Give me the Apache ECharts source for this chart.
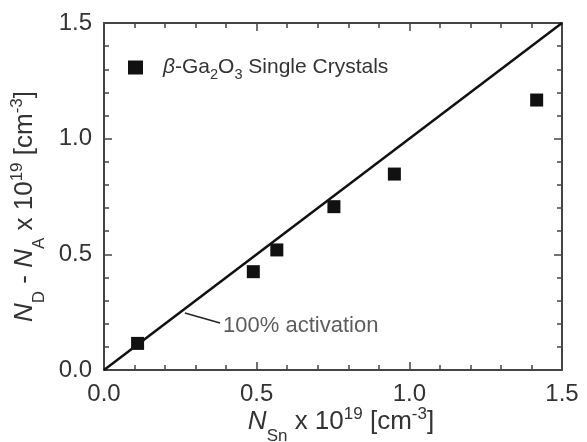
<!DOCTYPE html>
<html><head><meta charset="utf-8">
<script src="https://cdn.jsdelivr.net/npm/echarts@6/dist/echarts.min.js"></script>
<style>html,body{margin:0;padding:0;background:#fff}#c{width:587px;height:442px}</style>
</head><body><div id="c"></div>
<script>
const nSn = [0.11, 0.489, 0.566, 0.753, 0.951, 1.417];
const ndMinusNa = [0.115, 0.425, 0.519, 0.706, 0.847, 1.167];
const idealLine = [[0, 0], [1.5, 1.5]];
const leader = [[0.265, 0.246], [0.38, 0.203]];
const annotationPos = [0.39, 0.19];
const annotationText = '100% activation';
const seriesName = 'β-Ga2O3 Single Crystals';
const axisMin = 0, axisMax = 1.5, axisStep = 0.5;

const FONT = 'Liberation Sans, Arial, sans-serif';
const TXT = '#333';
const rich = {
  m: {fontSize: 26, fontFamily: FONT, color: TXT, lineHeight: 34},
  i: {fontSize: 26, fontFamily: FONT, color: TXT, fontStyle: 'italic', lineHeight: 34},
  sub: {fontSize: 17, fontFamily: FONT, color: TXT, height: 6, lineHeight: 6, verticalAlign: 'bottom'},
  sup: {fontSize: 17, fontFamily: FONT, color: TXT, height: 18, lineHeight: 18, verticalAlign: 'top'}
};
const legRich = {
  m: {fontSize: 21, fontFamily: FONT, color: TXT, lineHeight: 24},
  i: {fontSize: 21, fontFamily: FONT, color: TXT, fontStyle: 'italic', lineHeight: 24},
  sub: {fontSize: 14.5, fontFamily: FONT, color: TXT, height: 10, lineHeight: 10, verticalAlign: 'bottom'}
};

const chart = echarts.init(document.getElementById('c'), null, {renderer: 'canvas'});
const axisCommon = {
  type: 'value', min: axisMin, max: axisMax, interval: axisStep,
  axisLine: {show: true, onZero: false, lineStyle: {color: '#444', width: 2}},
  axisTick: {show: true, inside: true, length: 8, lineStyle: {color: '#444', width: 1.5}},
  minorTick: {show: true, splitNumber: 5, length: 5, lineStyle: {color: '#444', width: 1.5}},
  splitLine: {show: false},
  axisLabel: {fontSize: 24, fontFamily: FONT, color: TXT, formatter: v => v.toFixed(1)}
};
chart.setOption({
  animation: false,
  backgroundColor: '#fff',
  grid: {left: 104, right: 25, top: 23, bottom: 72, containLabel: false, outerBoundsMode: 'none'},
  legend: {
    left: 123, top: 52, itemWidth: 15, itemHeight: 14, itemGap: 10,
    data: [{name: seriesName, icon: 'rect'}],
    formatter: () => '{i|β}{m|-Ga}{sub|2}{m|O}{sub|3}{m| Single Crystals}',
    textStyle: {rich: legRich, padding: [0, 0, 0, 15]}
  },
  xAxis: [
    Object.assign({}, axisCommon, {
      position: 'bottom',
      axisLabel: Object.assign({}, axisCommon.axisLabel, {margin: 12}),
      name: '{i|N}{sub|Sn}{m| x 10}{sup|19}{m| [cm}{sup|-3}{m|]}',
      nameLocation: 'middle', nameGap: 35, nameMoveOverlap: false,
      nameTextStyle: {rich: rich, padding: [0, 0, 0, 16]}
    }),
    Object.assign({}, axisCommon, {position: 'top', axisLabel: {show: false}})
  ],
  yAxis: [
    Object.assign({}, axisCommon, {
      position: 'left',
      axisLabel: Object.assign({}, axisCommon.axisLabel, {margin: 12}),
      name: '{i|N}{sub|D}{m| - }{i|N}{sub|A}{m| x 10}{sup|19}{m| [cm}{sup|-3}{m|]}',
      nameLocation: 'middle', nameGap: 56, nameRotate: 90,
      nameTextStyle: {rich: rich, padding: [0, 20, 0, 0]}
    }),
    Object.assign({}, axisCommon, {position: 'right', axisLabel: {show: false}})
  ],
  series: [
    {
      type: 'line', data: idealLine, symbol: 'none', silent: true,
      lineStyle: {color: '#111', width: 2.5}, z: 2
    },
    {
      type: 'line', data: leader, symbol: 'none', silent: true,
      lineStyle: {color: '#222', width: 1.5}, z: 2
    },
    {
      type: 'scatter', data: [annotationPos], symbolSize: 0, silent: true,
      label: {show: true, position: 'right', distance: 0, formatter: annotationText,
        fontSize: 22, fontFamily: FONT, color: TXT}
    },
    {
      name: seriesName, type: 'scatter',
      data: nSn.map((x, k) => [x, ndMinusNa[k]]),
      symbol: 'rect', symbolSize: 13,
      itemStyle: {color: '#111', opacity: 1}, z: 3
    }
  ]
});
</script></body></html>
